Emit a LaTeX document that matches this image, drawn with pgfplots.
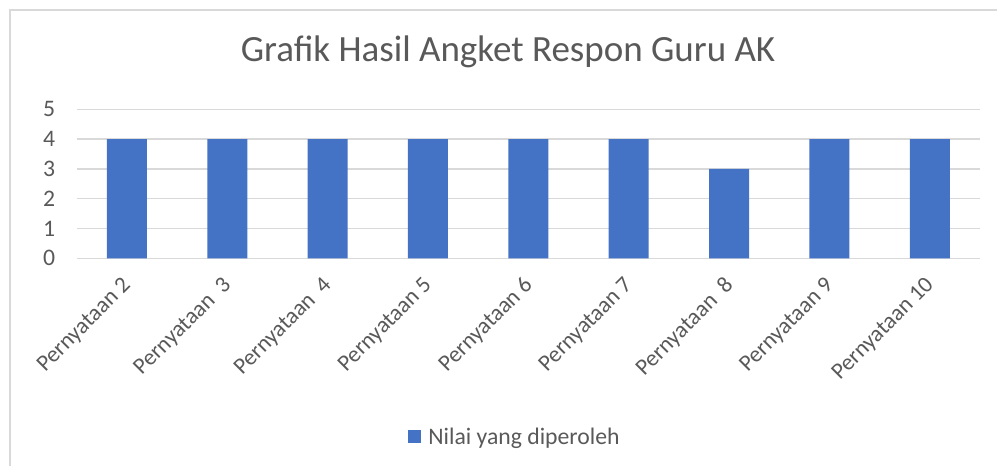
\documentclass[border=0pt]{standalone}
\usepackage{pgfplots}
\pgfplotsset{compat=1.18}
\usepackage{fontspec}
\setmainfont{Carlito}
\definecolor{barblue}{HTML}{4472C4}
\definecolor{txtgray}{HTML}{595959}
\definecolor{gridgray}{HTML}{D9D9D9}
\begin{document}
\begin{tikzpicture}[x=1bp,y=1bp]
\draw[gridgray, line width=1.5bp] (10,456) rectangle (1010,-10);
\begin{axis}[
  at={(76.7bp,207.7bp)}, anchor=south west,
  scale only axis, width=903.3bp, height=149bp,
  xmin=-0.5, xmax=8.5, ymin=0, ymax=5,
  ybar, bar width=40bp,
  xtick={0,...,8},
  xticklabels={Pernyataan 2, Pernyataan~~3, Pernyataan~~4, Pernyataan 5, Pernyataan 6, Pernyataan 7, Pernyataan~~8, Pernyataan 9, Pernyataan 10},
  ytick={0,1,2,3,4,5},
  major tick length=0pt,
  axis x line*=bottom, axis y line*=left,
  x axis line style={gridgray, line width=1.5bp, -},
  y axis line style={draw=none},
  ymajorgrids, grid style={gridgray, line width=1.5bp},
  /pgf/number format/assume math mode=true,
  tick label style={font=\fontsize{23.7bp}{28bp}\selectfont, text=txtgray},
  yticklabel style={anchor=east, xshift=-18bp},
  xticklabel style={font=\fontsize{23bp}{27bp}\selectfont, xshift=-6bp, yshift=-17bp, rotate=45, anchor=north east, inner sep=0bp},
  title={Grafik Hasil Angket Respon Guru AK},
  title style={at={(0.4775,1.284)}, anchor=base, font=\fontsize{37bp}{44bp}\selectfont, text=txtgray},
  legend style={at={(0.4852,-1.199)}, anchor=center, draw=none, fill=none,
    font=\fontsize{23.7bp}{28bp}\selectfont, text=txtgray,
    legend cell align=left, inner sep=0pt, column sep=5bp},
  legend image code/.code={\fill[barblue] (0bp,-6.5bp) rectangle (13bp,6.5bp);},
  clip=false,
]
\addplot[fill=barblue, draw=none] coordinates {(0,4) (1,4) (2,4) (3,4) (4,4) (5,4) (6,3) (7,4) (8,4)};
\addlegendentry{Nilai yang diperoleh}
\end{axis}
\pgfresetboundingbox
\useasboundingbox (0,0) rectangle (997,466);
\end{tikzpicture}
\end{document}
